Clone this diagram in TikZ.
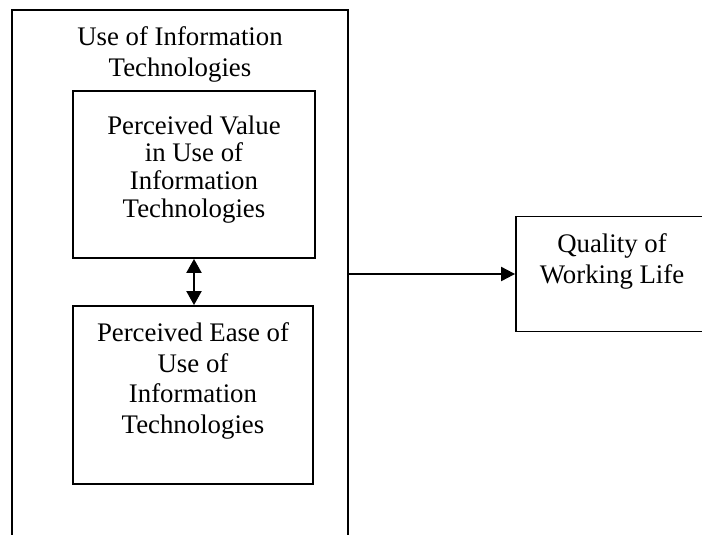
\documentclass[tikz,border=0pt]{standalone}
\usepackage{fontspec}
\setmainfont{Liberation Serif}
\usetikzlibrary{arrows.meta}
\begin{document}
\begin{tikzpicture}[x=1pt,y=-1pt,
  boxline/.style={draw=black,line width=1.8pt,rectangle,inner sep=0pt},
  conn/.style={line width=2pt},
  lbl/.style={anchor=north,align=center,inner sep=0pt,font=\fontsize{26.8}{30.7}\selectfont},
  lblsmall/.style={anchor=north,align=center,inner sep=0pt,font=\fontsize{26.8}{27.7}\selectfont},
  tip/.style={-{Triangle[length=14pt,width=14pt]}},
  dtip/.style={{Triangle[length=14pt,width=15pt]}-{Triangle[length=14pt,width=15pt]}}]
\clip (0,0) rectangle (702,535);
% outer box (bottom runs off the picture)
\node[boxline,minimum width=336pt,minimum height=545pt] (use) at (180,282.5) {};
\node[lbl] (uselbl) at (180,26.5) {Use of Information\\Technologies};
% perceived value
\node[boxline,minimum width=242pt,minimum height=167pt] (pv) at (194,174.5) {};
\node[lblsmall] (pvlbl) at (194,115.5) {Perceived Value\\in Use of\\Information\\Technologies};
% perceived ease of use
\node[boxline,minimum width=240pt,minimum height=178pt] (pe) at (193,395) {};
\node[lbl] (pelbl) at (193,322.5) {Perceived Ease of\\Use of\\Information\\Technologies};
% quality of working life (right edge off the picture)
\node[boxline,minimum width=196pt,minimum height=115pt] (qwl) at (614,274) {};
\node[lbl] (qwllbl) at (612,233.5) {Quality of\\Working Life};
% connectors
\draw[conn,tip] (use.east |- qwl.west) -- (qwl.west);
\draw[conn,dtip] (pv.south) -- (pv.south |- pe.north);
\end{tikzpicture}
\end{document}
